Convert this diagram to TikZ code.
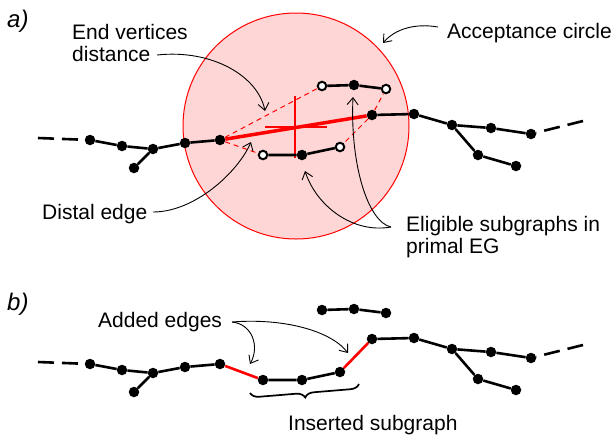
\documentclass[tikz,border=0pt]{standalone}
\usepackage{fontspec}
\setmainfont{Liberation Sans}
\usetikzlibrary{arrows.meta,decorations.pathreplacing}
\definecolor{accfill}{RGB}{255,214,214}
\begin{document}
\begin{tikzpicture}[x=1pt,y=-1pt,
  vtx/.style={circle,fill=black,inner sep=0pt,minimum size=10.5pt},
  ovtx/.style={circle,draw=black,line width=2pt,fill=white,inner sep=0pt,minimum size=8.5pt},
  edge/.style={line width=2.6pt},
  tail/.style={line width=2.6pt,dash pattern=on 16pt off 8pt},
  redthick/.style={red,line width=3.5pt},
  reddash/.style={red,line width=1pt,dash pattern=on 5pt off 4pt},
  cross/.style={red,line width=1.3pt},
  added/.style={red,line width=2.6pt},
  callout/.style={line width=0.9pt,-{Straight Barb[length=7pt,width=11pt]}},
  lbl/.style={font=\fontsize{21}{22}\selectfont,inner sep=0pt,align=left,anchor=west},
  panel/.style={font=\fontsize{24}{28}\selectfont\itshape,inner sep=0pt,anchor=west}
]
\useasboundingbox (0,0) rectangle (612,437);

% ---------------- panel a ----------------
\node[panel] (pa) at (7,21) {a)};

% acceptance circle with its centre cross
\node[circle,draw=red,line width=1pt,fill=accfill,minimum size=226pt,inner sep=0pt] (acc) at (296,126) {};
\coordinate (ctr) at (295,127);
\draw[cross] (ctr) ++(0,-31) -- ++(0,62);
\draw[cross] (ctr) ++(-30,0) -- ++(62,0);

% main chain
\coordinate (a0) at (38,138);
\node[vtx] (a1) at (90,140) {};
\node[vtx] (a2) at (122,146) {};
\node[vtx] (a3) at (153,149) {};
\node[vtx] (a3x) at (134,168) {};
\node[vtx] (a4) at (185,143) {};
\node[vtx] (a5) at (220,140) {};
\node[vtx] (am) at (372,115) {};
\node[vtx] (a6) at (414,114) {};
\node[vtx] (a7) at (452,125) {};
\node[vtx] (a8) at (491,128) {};
\node[vtx] (a9) at (531,134) {};
\coordinate (a10) at (583,121);
\node[vtx] (a7x) at (478,155) {};
\node[vtx] (a7y) at (516,166) {};

% eligible subgraphs
\node[ovtx] (u1) at (322,86) {};
\node[vtx]  (u2) at (354,85) {};
\node[ovtx] (u3) at (386,89) {};
\node[ovtx] (l1) at (263,155) {};
\node[vtx]  (l2) at (302,155) {};
\node[ovtx] (l3) at (340,147) {};

% end vertices distances
\draw[reddash] (a5) -- (u1);
\draw[reddash] (a5) -- (l1);
\draw[reddash] (am) -- (u3);
\draw[reddash] (am) -- (l3);

% distal edge
\draw[redthick] (a5) -- (am);

% edges
\draw[tail] (a0) -- (a1);
\draw[edge] (a1) -- (a2) -- (a3) -- (a4) -- (a5);
\draw[edge] (a3) -- (a3x);
\draw[edge] (am) -- (a6) -- (a7) -- (a8) -- (a9);
\draw[edge] (a7) -- (a7x) -- (a7y);
\draw[tail] (a10) -- (a9);
\draw[edge] (u1) -- (u2) -- (u3);
\draw[edge] (l1) -- (l2) -- (l3);

% labels and callouts
\node[lbl] (tevd) at (72,42.5) {End vertices\\distance};
\node[lbl] (tdist) at (42,214) {Distal edge};
\node[lbl] (tacc) at (447,33) {Acceptance circle};
\node[lbl] (telig) at (406,237) {Eligible subgraphs in\\primal EG};

\coordinate (evd-s) at (157,55);
\coordinate (evd-e) at (265,111);
\coordinate (dist-s) at (153,212);
\coordinate (dist-e) at (251,142);
\coordinate (acc-s) at (438,27);
\coordinate (acc-e) at (383,43);
\coordinate (elig-s) at (391,227);
\coordinate (elig-e1) at (305,171);
\coordinate (elig-e2) at (353,97);

\draw[callout] (evd-s) .. controls (212,49) and (258,76) .. (evd-e);
\draw[callout] (dist-s) .. controls (195,212) and (238,172) .. (dist-e);
\draw[callout] (acc-s) .. controls (415,23) and (395,29) .. (acc-e);
\draw[callout] (elig-s) .. controls (352,234) and (316,205) .. (elig-e1);
\draw[callout] (elig-s) .. controls (368,222) and (350,165) .. (elig-e2);

% ---------------- panel b ----------------
\node[panel] (pb) at (7,304) {b)};

\coordinate (b0) at (38,362);
\node[vtx] (b1) at (90,364) {};
\node[vtx] (b2) at (122,370) {};
\node[vtx] (b3) at (153,373) {};
\node[vtx] (b3x) at (134,392) {};
\node[vtx] (b4) at (185,367) {};
\node[vtx] (b5) at (220,364) {};
\node[vtx] (bm) at (372,339) {};
\node[vtx] (b6) at (414,338) {};
\node[vtx] (b7) at (452,349) {};
\node[vtx] (b8) at (491,352) {};
\node[vtx] (b9) at (531,358) {};
\coordinate (b10) at (583,345);
\node[vtx] (b7x) at (478,379) {};
\node[vtx] (b7y) at (516,390) {};

% remaining subgraph
\node[vtx] (v1) at (322,310) {};
\node[vtx] (v2) at (354,309) {};
\node[vtx] (v3) at (386,313) {};

% inserted subgraph
\node[vtx] (s1) at (263,380) {};
\node[vtx] (s2) at (302,380) {};
\node[vtx] (s3) at (340,372) {};

\draw[tail] (b0) -- (b1);
\draw[edge] (b1) -- (b2) -- (b3) -- (b4) -- (b5);
\draw[edge] (b3) -- (b3x);
\draw[edge] (bm) -- (b6) -- (b7) -- (b8) -- (b9);
\draw[edge] (b7) -- (b7x) -- (b7y);
\draw[tail] (b10) -- (b9);
\draw[edge] (v1) -- (v2) -- (v3);
\draw[edge] (s1) -- (s2) -- (s3);
\draw[added] (b5) -- (s1);
\draw[added] (s3) -- (bm);

\node[lbl] (tadd) at (98,322.5) {Added edges};
\coordinate (add-s) at (232,322);
\coordinate (add-e1) at (250,364);
\coordinate (add-e2) at (348,353);
\draw[callout] (add-s) .. controls (252,324) and (260,346) .. (add-e1);
\draw[callout] (add-s) .. controls (282,318) and (330,330) .. (add-e2);

\coordinate (br-l) at (250,393);
\coordinate (br-r) at (359,384);
\draw[line width=1.7pt,decorate,decoration={brace,mirror,amplitude=9pt}] (br-l) -- (br-r);
\node[lbl] (tins) at (288,425) {Inserted subgraph};
\end{tikzpicture}
\end{document}
